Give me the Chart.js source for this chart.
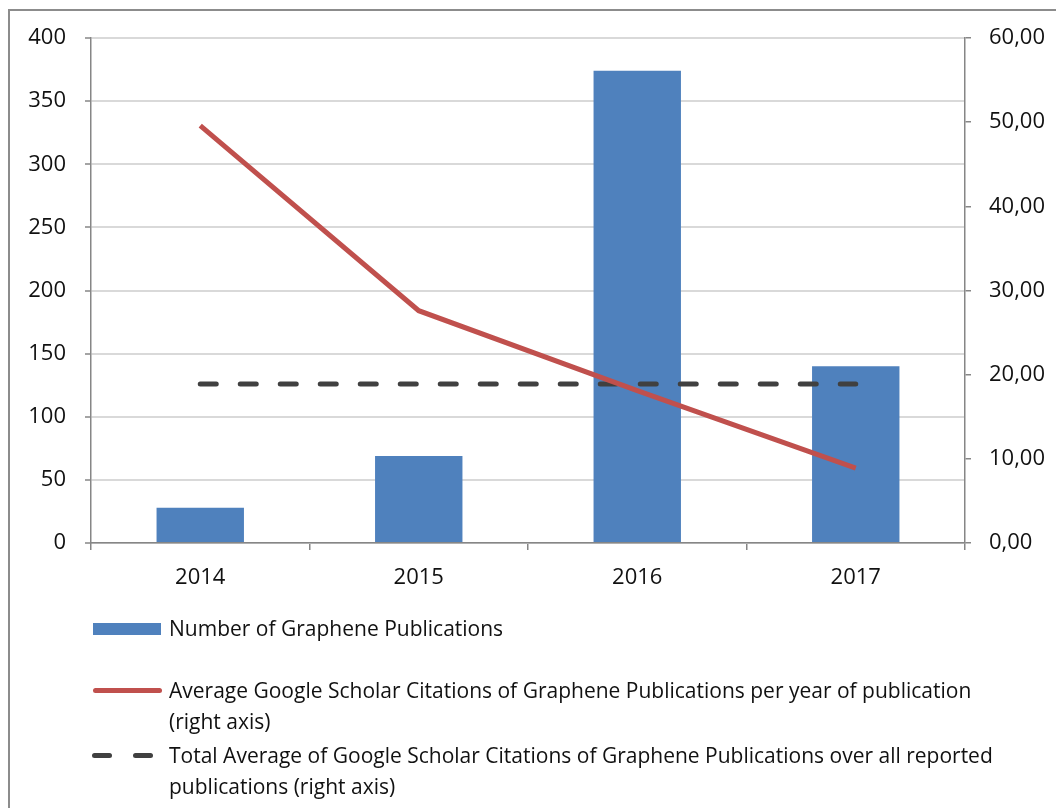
<!DOCTYPE html>
<html>
<head>
<meta charset="utf-8">
<script src="https://cdn.jsdelivr.net/npm/chart.js@4.4.0/dist/chart.umd.min.js"></script>
<style>
  html, body { margin: 0; padding: 0; background: #fff; overflow: hidden; }
  body { width: 1056px; height: 808px; position: relative; font-family: "Open Sans", sans-serif; }
  #frame { position: absolute; left: 8px; top: 9px; width: 1200px; height: 1000px; border: 2px solid #8c8c8c; }
  #wrap { position: absolute; left: 0; top: 0; width: 1056px; height: 600px; }
  #legend { position: absolute; left: 0; top: 0; width: 1056px; height: 808px; }
  .item { position: absolute; left: 169px; font-size: 21px; color: #111; line-height: 31px; white-space: nowrap; }
  .mark { position: absolute; }
</style>
</head>
<body>
<div id="frame"></div>
<div id="wrap"><canvas id="chart" width="1056" height="600"></canvas></div>
<div id="legend"></div>
<script>
// chart values
var years = ['2014', '2015', '2016', '2017'];
var publications = [28, 69, 374, 140];
var avgCitations = [49.6, 27.6, 18.1, 8.9];
var totalAverage = [18.9, 18.9, 18.9, 18.9];

var leftTicks = [0, 50, 100, 150, 200, 250, 300, 350, 400];
var rightTicks = [0, 10, 20, 30, 40, 50, 60];

var labelPubs = 'Number of Graphene Publications';
var labelAvg = ['Average Google Scholar Citations of Graphene Publications per year of publication', '(right axis)'];
var labelTotal = ['Total Average of Google Scholar Citations of Graphene Publications over all reported', 'publications (right axis)'];

var blue = '#4f81bd';
var red = '#c0504d';
var dark = '#404040';
var axisGrey = '#868686';
var tickFont = { family: 'Open Sans', size: 22 };

var chart = new Chart(document.getElementById('chart'), {
  type: 'bar',
  data: {
    labels: years,
    datasets: [
      {
        type: 'line',
        label: labelAvg.join(' '),
        data: avgCitations,
        yAxisID: 'y1',
        borderColor: red,
        borderWidth: 5,
        pointRadius: 0,
        tension: 0,
        order: 1
      },
      {
        type: 'line',
        label: labelTotal.join(' '),
        data: totalAverage,
        yAxisID: 'y1',
        borderColor: dark,
        borderWidth: 5,
        borderDash: [16, 24],
        borderCapStyle: 'round',
        pointRadius: 0,
        order: 2
      },
      {
        label: labelPubs,
        data: publications,
        yAxisID: 'y',
        backgroundColor: blue,
        categoryPercentage: 1,
        barPercentage: 0.4,
        order: 3
      }
    ]
  },
  options: {
    responsive: false,
    animation: false,
    layout: { padding: { top: 38, left: 0, right: 0, bottom: 0 } },
    plugins: { legend: { display: false }, tooltip: { enabled: false } },
    scales: {
      x: {
        grid: { drawOnChartArea: false, tickLength: 7, color: axisGrey, lineWidth: 1.5 },
        border: { color: axisGrey, width: 1.5 },
        ticks: { color: '#111', font: tickFont, padding: 15 },
        afterFit: function (s) { s.height = 600 - 543; }
      },
      y: {
        position: 'left',
        min: 0, max: 400,
        afterBuildTicks: function (s) { s.ticks = leftTicks.map(function (v) { return { value: v }; }); },
        grid: { color: '#d9d9d9', lineWidth: 2, tickLength: 6, tickColor: axisGrey, tickWidth: 1.5 },
        border: { color: axisGrey, width: 1.5 },
        ticks: { color: '#111', font: tickFont, padding: 19 },
        afterFit: function (s) { s.width = 91; }
      },
      y1: {
        position: 'right',
        min: 0, max: 60,
        afterBuildTicks: function (s) { s.ticks = rightTicks.map(function (v) { return { value: v }; }); },
        grid: { drawOnChartArea: false, tickLength: 6, color: axisGrey, lineWidth: 1.5 },
        border: { color: axisGrey, width: 1.5 },
        ticks: {
          color: '#111', font: tickFont, padding: 18,
          callback: function (v) { return v.toFixed(2).replace('.', ','); }
        },
        afterFit: function (s) { s.width = 1056 - 965; }
      }
    }
  }
});

// legend built from the chart datasets
var legend = document.getElementById('legend');
function addItem(top, lines, markHtml) {
  var d = document.createElement('div');
  d.className = 'item';
  d.style.top = top + 'px';
  d.innerHTML = lines.join('<br>');
  legend.appendChild(d);
  legend.insertAdjacentHTML('beforeend', markHtml);
}
var ds = chart.data.datasets;
addItem(613, [labelPubs],
  '<div class="mark" style="left:93px;top:623px;width:68px;height:12px;background:' + ds[2].backgroundColor + '"></div>');
addItem(675, labelAvg,
  '<div class="mark" style="left:93px;top:688px;width:69px;height:5px;border-radius:3px;background:' + ds[0].borderColor + '"></div>');
addItem(740, labelTotal,
  '<div class="mark" style="left:92px;top:753px;width:20px;height:5px;border-radius:3px;background:' + ds[1].borderColor + '"></div>' +
  '<div class="mark" style="left:133px;top:753px;width:20px;height:5px;border-radius:3px;background:' + ds[1].borderColor + '"></div>');
</script>
</body>
</html>
